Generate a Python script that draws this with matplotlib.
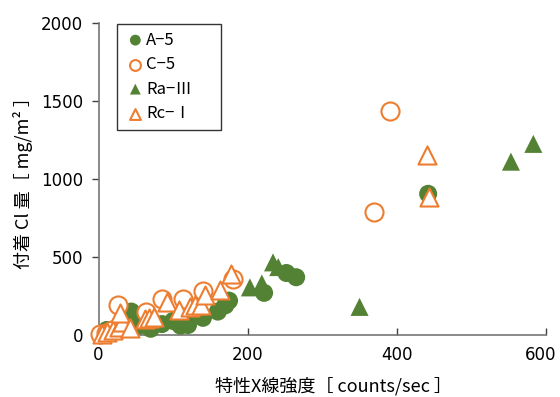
import matplotlib
matplotlib.use("Agg")
import matplotlib.pyplot as plt
import matplotlib.transforms as mtransforms

# A-5 (filled green circles)
a5_x = [10, 20, 11, 44, 55, 70, 85, 100, 107, 110, 120, 130, 140, 160, 170, 175, 222, 252, 265, 442]
a5_y = [5, 20, 32, 150, 60, 40, 70, 90, 96, 60, 64, 130, 110, 150, 190, 220, 270, 397, 370, 904]

# C-5 (open orange circles)
c5_x = [2, 10, 18, 26, 64, 85, 113, 140, 181, 370, 391]
c5_y = [5, 15, 30, 192, 147, 230, 230, 282, 360, 788, 1436]

# Ra-III (filled green triangles)
ra_x = [203, 219, 234, 241, 350, 553, 583]
ra_y = [305, 330, 465, 435, 180, 1110, 1224]

# Rc-I (open orange triangles)
rc_x = [5, 12, 20, 28, 32, 29, 42, 62, 68, 75, 92, 108, 123, 130, 137, 143, 163, 178, 440, 443]
rc_y = [5, 20, 35, 50, 85, 140, 45, 100, 110, 115, 212, 160, 180, 190, 195, 255, 290, 390, 1150, 885]

labels = ["A−5", "C−5", "Ra−Ⅲ", "Rc−Ⅰ"]

green = "#548235"
orange = "#ED7D31"
jp = ["Noto Sans CJK JP", "DejaVu Sans"]

fig = plt.figure(figsize=(5.6, 3.97), dpi=100)
ax = fig.add_axes([98.5 / 560, 62 / 397, (546 - 98.5) / 560, (335 - 22.7) / 397])

ms = 13 ** 2
ax.scatter(a5_x, a5_y, s=ms, marker="o", color=green, edgecolors="none", label=labels[0], zorder=3, clip_on=False)
ax.scatter(c5_x, c5_y, s=ms, marker="o", facecolors="white", edgecolors=orange, linewidths=1.5,
           label=labels[1], zorder=4, clip_on=False)
ax.scatter(ra_x, ra_y, s=ms, marker="^", color=green, edgecolors="none", label=labels[2], zorder=5, clip_on=False)
ax.scatter(rc_x, rc_y, s=ms, marker="^", facecolors="white", edgecolors=orange, linewidths=1.5,
           label=labels[3], zorder=6, clip_on=False)

ax.set_xlim(0, 600)
ax.set_ylim(0, 2000)
ax.set_xticks([0, 200, 400, 600])
ax.set_yticks([0, 500, 1000, 1500, 2000])

for s in ["top", "right"]:
    ax.spines[s].set_visible(False)
for s in ["left", "bottom"]:
    ax.spines[s].set_color("#767676")
    ax.spines[s].set_linewidth(1.2)
    ax.spines[s].set_zorder(2)

ax.tick_params(axis="x", direction="in", length=5, width=1, color="#404040", pad=8)
ax.tick_params(axis="y", direction="out", length=5, width=1, color="#404040", pad=6)
for lab in ax.get_xticklabels() + ax.get_yticklabels():
    lab.set_family("DejaVu Sans")
    lab.set_fontsize(12)
# keep the last x label inside the figure edge
last = ax.get_xticklabels()[-1]
last.set_transform(last.get_transform() + mtransforms.ScaledTranslation(-5 / 100, 0, fig.dpi_scale_trans))

ax.set_xlabel("特性X線強度［ counts/sec ］", family=jp, fontsize=13)
ax.xaxis.set_label_coords(0.526, -0.135)
ax.set_ylabel("付着 Cl 量［ mg/m² ］", family=jp, fontsize=13, labelpad=6)

leg = ax.legend(loc="upper left", bbox_to_anchor=(117 / 560, 1 - 133 / 397, 104 / 560, 109 / 397),
                bbox_transform=fig.transFigure, mode="expand",
                borderaxespad=0, frameon=True, fancybox=False, edgecolor="black", markerscale=0.6,
                handletextpad=0.0, handlelength=1.3, labelspacing=0.45, borderpad=0.45,
                prop={"family": jp, "size": 12})
leg.get_frame().set_linewidth(1.0)

fig.savefig("out.png", dpi=100)
